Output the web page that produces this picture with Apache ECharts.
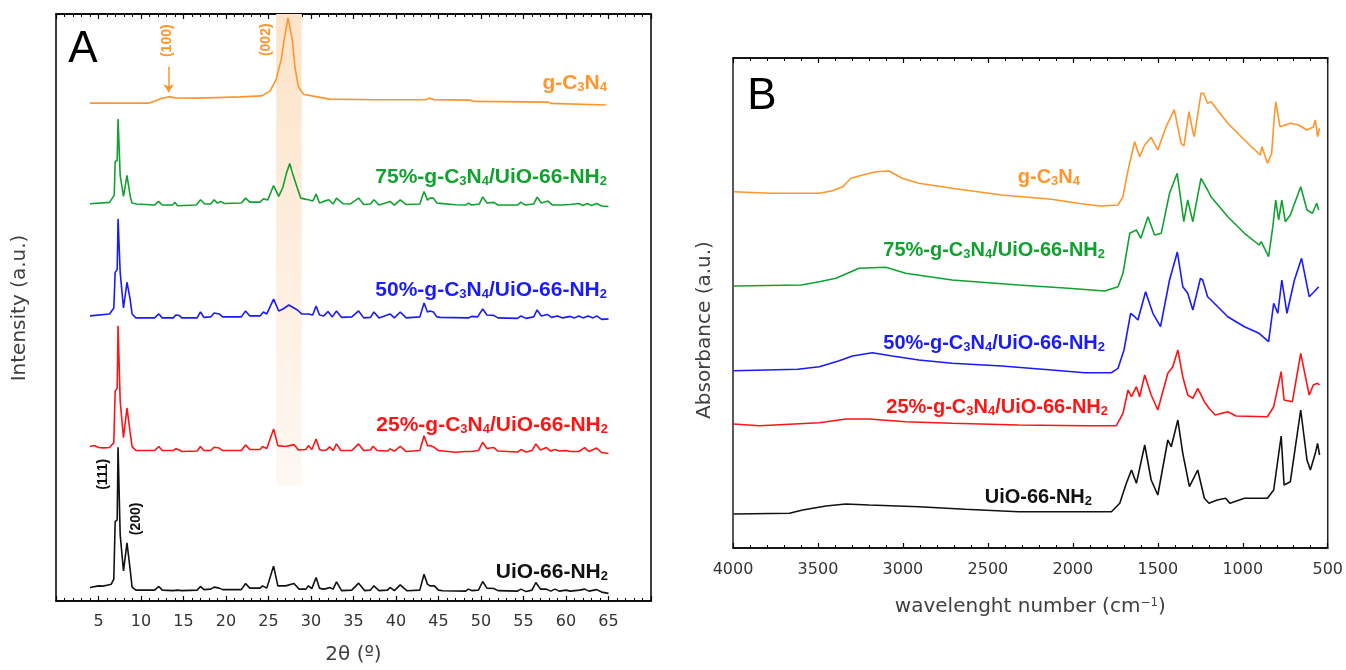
<!DOCTYPE html>
<html>
<head>
<meta charset="utf-8">
<script src="https://cdn.jsdelivr.net/npm/echarts@6.0.0/dist/echarts.min.js"></script>
<style>
  html, body { margin: 0; padding: 0; background: #fff; }
  #Chart { width: 1346px; height: 670px; }
</style>
</head>
<body>
<div id="Chart"></div>
<script>
/* eslint-disable no-undef */
// A: XRD patterns, [2θ (deg), intensity (a.u., stacked)]
const xrdGC3N4 = [[4.0,503],[11.0,503],[12.3,507.5],[13.3,509.5],[14.0,508.3],[16.8,508],[17.0,509.3],[21.7,509.3],[24.2,510.3],[25.2,515.3],[25.9,527],[26.5,547],[26.9,570],[27.3,589],[27.5,589],[27.8,567],[28.1,540],[28.5,520],[29.1,512],[30.1,510.3],[32.2,507],[37.7,506.3],[43.5,506.3],[43.9,508],[44.5,506.5],[48.7,506],[49.2,504.7],[57.9,504],[58.2,502.7],[64.7,501]]
const xrd75 = [[4.0,401.3],[6.3,402.7],[6.85,410],[6.96,444],[7.2,445],[7.3,487],[7.45,487],[7.55,430],[7.7,430],[7.94,408.7],[8.35,430],[8.55,430],[8.75,408],[8.95,402],[9.5,401],[11.6,400],[12.06,403.7],[12.5,400],[13.7,400],[14.0,402.7],[14.3,399.3],[16.5,400],[17.0,405.3],[17.5,401],[18.2,401],[18.6,405.3],[19.0,402],[19.4,403.5],[19.8,401.5],[21.8,402],[22.3,407],[22.8,403],[24.0,403],[24.4,406.3],[24.9,405],[25.6,419.7],[26.2,408.7],[26.7,418],[27.1,432],[27.5,442],[27.9,430],[28.4,417],[28.8,407],[29.3,406],[29.7,405.3],[30.2,404],[30.6,411],[31.0,402],[31.5,403.7],[32.1,405.3],[32.6,401],[33.0,407],[33.8,401.3],[34.6,401],[35.6,407],[36.2,400.5],[37.0,401],[37.4,405.3],[38.0,400],[39.3,403.7],[39.8,400],[40.5,405.3],[41.2,400.5],[42.8,401],[43.3,413.7],[43.7,405],[44.0,407],[44.4,407],[44.8,402],[45.2,401.7],[47.0,400.3],[48.2,400],[48.5,402],[48.9,400],[49.8,401],[50.2,408.3],[50.7,402],[51.5,402.7],[52.0,400],[54.3,400],[54.7,403],[55.2,400],[56.2,401],[56.6,408],[57.1,402],[57.9,404],[58.4,400],[59.5,400],[60.5,400.5],[61.5,401.5],[62.0,399.5],[62.5,401.5],[63.0,399.5],[63.6,401.5],[64.2,399],[65.0,398.5]]
const xrd50 = [[4.0,288],[6.3,290],[6.8,296],[6.96,332],[7.2,335],[7.3,386],[7.45,386],[7.55,332],[7.7,330],[7.94,296],[8.35,322],[8.5,322],[8.7,306],[8.95,290],[9.4,286],[11.6,286],[12.1,290],[12.5,286],[13.8,286],[14.1,289],[14.3,287.5],[14.5,288.5],[14.8,286],[16.6,286],[17.0,292],[17.4,286.5],[18.2,287],[18.6,291],[19.2,290],[19.6,287],[21.8,287],[22.3,293],[22.8,288],[24.0,288],[24.4,292],[24.8,290],[25.6,305],[26.2,293],[26.7,295],[27.4,299],[28.0,296],[28.4,294],[28.9,290],[29.3,290],[29.7,290],[30.2,289],[30.6,298],[31.0,289],[31.5,288],[32.0,292.5],[32.5,287],[33.0,293],[33.6,286.5],[34.8,287],[35.6,293],[36.2,286],[37.0,286.5],[37.4,292],[38.0,286],[39.3,290],[39.8,286],[40.5,292],[41.2,286],[42.8,287],[43.3,301],[43.7,292],[44.0,293],[44.4,292],[44.8,287],[45.2,286.5],[48.5,286],[48.9,287.5],[49.6,287],[50.2,295],[50.7,289],[51.5,288.5],[52.0,286],[54.3,285.5],[54.7,288],[55.3,285.5],[56.2,287],[56.6,294],[57.1,288],[57.8,289.5],[58.3,286.5],[59.0,288],[59.6,286],[60.5,287.5],[61.0,286],[61.5,288],[62.0,286],[62.6,288],[63.2,286],[63.6,288],[64.2,284.5],[65.0,285]]
const xrd25 = [[4.0,156],[4.5,157],[5.0,155],[5.6,154.7],[6.3,155],[6.8,160],[6.96,212],[7.2,215],[7.3,278],[7.45,278],[7.55,202],[7.7,200],[7.94,165],[8.35,195],[8.5,195],[8.7,172],[8.95,156],[9.4,152],[11.6,152],[12.1,156],[12.5,152],[13.8,152],[14.1,154],[14.5,152.5],[14.8,151],[16.6,151.5],[17.0,156],[17.4,152],[18.2,152],[18.6,155.3],[19.2,154.5],[19.6,152],[21.8,152],[22.3,157.7],[22.8,153],[24.0,153],[24.3,156],[24.8,154],[25.6,173.7],[26.1,157],[27.0,156],[28.0,158],[28.5,152.7],[29.4,153],[29.7,157],[30.1,153],[30.6,163.7],[31.0,153],[31.4,152],[31.8,152.5],[32.2,155.7],[32.6,152],[33.0,158.7],[33.5,152],[34.8,152],[35.6,158.7],[36.2,152],[37.0,152.5],[37.3,156.3],[37.8,152],[39.0,151.5],[39.3,153.7],[39.8,151.5],[40.5,156.3],[41.2,151],[42.8,152],[43.3,167],[43.7,157],[44.0,157],[44.5,155.3],[45.0,152],[47.0,150.3],[48.2,151],[48.4,152],[48.9,151],[49.7,152],[50.2,160.3],[50.7,154],[51.5,155],[52.0,151.5],[54.3,150.5],[54.7,153],[55.3,150.5],[56.0,152],[56.45,158.7],[57.0,152.5],[57.7,155],[58.2,151.5],[58.7,153],[59.2,151.5],[60.0,152],[60.5,151],[61.5,151],[62.2,155],[62.7,151],[63.6,154.5],[64.2,150],[65.0,149]]
const xrdUiO = [[4.0,13.7],[5.0,15.3],[5.5,15],[6.0,16],[6.5,17],[6.8,22],[6.96,80.3],[7.2,82],[7.3,155.3],[7.45,155.3],[7.55,67],[7.7,65],[7.94,30.3],[8.35,58.7],[8.5,58.7],[8.7,33.7],[8.95,14],[9.4,11],[11.6,11],[12.1,14.7],[12.5,11],[13.8,10.5],[14.0,12.5],[14.3,11],[14.5,12.5],[14.8,10.5],[16.6,11],[17.0,14.7],[17.4,11.5],[18.2,12],[18.6,14],[19.2,13],[19.6,11.5],[21.8,11.5],[22.3,17.7],[22.8,13],[24.0,13],[24.3,15.3],[24.8,13],[25.6,35.3],[26.1,15.3],[27.0,15.3],[28.0,17.7],[28.6,12],[29.4,12],[29.7,15.3],[30.1,12.5],[30.6,23.7],[31.0,13],[31.4,12],[31.8,12.5],[32.2,13.7],[32.6,12],[33.0,19.3],[33.6,10.5],[34.8,11],[35.6,18],[36.3,10.5],[37.0,11],[37.4,15.3],[38.0,10.5],[39.0,11],[39.3,13.7],[39.8,10.5],[40.5,16.3],[41.3,10.3],[42.8,11],[43.3,27],[43.7,17],[44.0,15.3],[44.5,15.3],[45.0,11],[45.5,10.3],[48.2,10],[48.5,12],[48.9,10.5],[49.7,11],[50.2,19.7],[50.7,13],[51.5,12.7],[52.0,10.5],[54.3,10],[54.7,12],[55.3,9.5],[56.0,11],[56.45,18.7],[57.0,12],[57.7,12],[58.2,10],[58.7,12],[59.2,10],[60.0,11],[60.5,10],[61.6,11],[62.2,12],[62.7,10],[63.6,11.5],[64.2,9],[65.0,7.7]]

// B: FTIR spectra, [wavenumber (cm-1), absorbance (a.u., stacked)]
const ftirGC3N4 = [[3996,356.3],[3775,354.7],[3492,354.7],[3414,357.3],[3355,361.3],[3306,369.7],[3258,372],[3160,376.3],[3082,377],[3004,369.7],[2906,364.7],[2711,359.7],[2418,353],[2125,348.7],[1929,343.7],[1832,342],[1734,343],[1705,351.3],[1675,378],[1636,406.3],[1607,391.3],[1577,403],[1539,410.7],[1500,398],[1451,421.3],[1403,438.3],[1363,404.7],[1346,402],[1317,436.3],[1294,416.3],[1285,411.3],[1246,454.7],[1231,454.7],[1207,444.7],[1187,446.3],[1088,424.7],[990,408],[897,393],[887,401.3],[855,384.7],[830,394.7],[815,430],[806,446.3],[781,421.3],[720,424.7],[671,423],[622,418],[585,421],[573,428],[560,411.3],[548,419.7]]
const ftir75 = [[3996,262],[3599,263],[3492,266.3],[3394,269.7],[3258,279.7],[3101,280.7],[2984,274.7],[2711,268],[2320,263],[2027,259.7],[1812,257],[1734,261.3],[1705,274.7],[1665,314.7],[1626,318],[1600,309.7],[1558,331.3],[1519,313],[1480,314.7],[1431,354.7],[1386,374.7],[1347,326.3],[1324,348],[1294,326.3],[1246,369.7],[1236,369.7],[1207,358],[1187,351.3],[1088,331.3],[990,314.7],[904,303],[892,306.3],[848,291.3],[823,321.3],[806,348],[789,328],[770,348],[750,326.3],[720,333],[659,361.3],[622,338],[590,334.7],[565,344.7],[553,338]]
const ftir50 = [[3996,177.3],[3619,178.7],[3492,181.3],[3375,187.3],[3297,192],[3180,195.3],[3063,192],[2906,188],[2711,184.7],[2418,182],[2125,178],[1929,175.3],[1773,175.3],[1734,179.7],[1699,198],[1660,234.7],[1636,231.3],[1617,228],[1572,256.3],[1529,234.7],[1484,221.3],[1431,268],[1385,296],[1353,261.3],[1324,254.7],[1294,238],[1249,269.7],[1236,268],[1207,251.3],[1187,248],[1088,231.3],[990,221.3],[904,214.7],[848,206.3],[818,244.7],[794,234.7],[770,268],[740,234.7],[696,268],[654,289.7],[609,251.3],[580,256.3],[553,261.3]]
const ftir25 = [[3996,124],[3844,122.3],[3492,125.3],[3336,129],[3199,129],[2984,126.3],[2711,124.7],[2320,123],[1929,122.3],[1744,122.3],[1705,134.7],[1675,158],[1655,151.3],[1626,161.3],[1607,151.3],[1577,173],[1539,153],[1500,138],[1441,174.7],[1412,181.3],[1382,198],[1353,171.3],[1324,153],[1294,149.7],[1265,159.7],[1226,146.3],[1199,139.7],[1162,133],[1088,136.3],[1039,132],[855,131.3],[818,141.3],[774,176.3],[757,148],[708,146.3],[659,194.7],[609,153],[585,163],[560,164.7],[548,163]]
const ftirUiO = [[3996,34],[3668,34.7],[3590,38],[3453,42],[3336,44],[3199,43],[2906,41.3],[2633,38.7],[2320,36.3],[2125,36.3],[1773,36.3],[1724,44.7],[1685,64.7],[1655,78],[1626,64.7],[1577,103],[1539,68],[1500,53],[1441,108],[1421,101.3],[1382,128],[1353,94.7],[1314,61.3],[1265,78],[1226,49.7],[1199,44.7],[1150,48],[1101,49.7],[1076,44.7],[990,49.7],[855,49.7],[818,58],[774,112],[757,63],[720,66.3],[659,138],[622,88],[602,78],[573,94.7],[560,104.7],[548,93]]

// tick labels
const xrdTickLabels = [5, 10, 15, 20, 25, 30, 35, 40, 45, 50, 55, 60, 65]
const ftirTickLabels = [4000, 3500, 3000, 2500, 2000, 1500, 1000, 500]

// g-C3N4 (002) region and peak annotations, [2θ, intensity]
const bandRange = [25.9, 28.9]
const bandHeight = [117, 593]
const gc3n4Peaks = [["(100)", 13.1, 566], ["(002)", 24.7, 567]]
const uioPeaks = [["(111)", 5.6, 128], ["(200)", 9.4, 83]]
const arrow100 = [[13.25, 540], [13.25, 514]]

const c = {
  orange: "#ff952b",
  green: "#10a22e",
  blue: "#1a1aff",
  red: "#ff1414",
  black: "#111111"
}
const labelFont = "\"Liberation Sans\", Arial, sans-serif"
const axisFont = "\"DejaVu Sans\", Verdana, sans-serif"

const chart = echarts.init(document.getElementById("Chart"), null, { renderer: "canvas" })

const line = (name, data, color, xi, yi, extra) => Object.assign({
  name,
  type: "line",
  data,
  xAxisIndex: xi,
  yAxisIndex: yi,
  showSymbol: false,
  symbol: "none",
  lineStyle: { color, width: 1.6 },
  itemStyle: { color },
  z: 3,
  silent: true
}, extra || {})

const peakMarks = (list, color) => ({
  symbol: "circle",
  symbolSize: 1,
  itemStyle: { color: "rgba(0,0,0,0)" },
  label: {
    show: true,
    position: "inside",
    rotate: 90,
    formatter: "{b}",
    color,
    fontSize: 14,
    fontWeight: "bold",
    fontFamily: labelFont
  },
  data: list.map(p => ({ name: p[0], coord: [p[1], p[2]] }))
})

const xAxisFrame = (gridIndex, position, min, max, interval, labels, inverse, margin) => ({
  type: "value",
  gridIndex,
  position,
  min,
  max,
  interval,
  inverse,
  axisLine: { show: true, onZero: false, lineStyle: { color: "#000", width: 1.5 } },
  axisTick: { show: true, inside: true, length: 5, lineStyle: { color: "#000", width: 1.2 } },
  minorTick: { show: true, splitNumber: 5, length: 3, lineStyle: { color: "#000", width: 1 } },
  splitLine: { show: false },
  minorSplitLine: { show: false },
  axisLabel: {
    show: labels !== null,
    margin,
    color: "#333",
    fontSize: 16,
    fontFamily: axisFont,
    formatter: v => (labels && labels.includes(v)) ? String(v) : ""
  }
})

const yAxisFrame = (gridIndex, max) => ({
  type: "value",
  gridIndex,
  min: 0,
  max,
  axisLine: { show: false },
  axisTick: { show: false },
  axisLabel: { show: false },
  splitLine: { show: false }
})

// series name text with subscripts
const sub = color => ({
  s: { fontSize: 13, fontWeight: "bold", fontFamily: labelFont, fill: color, lineHeight: 2, verticalAlign: "bottom" }
})
const nameText = (text, color, x, y, size) => ({
  type: "text",
  x,
  y,
  z: 10,
  style: {
    text,
    fill: color,
    font: "bold " + size + "px " + labelFont,
    align: "right",
    verticalAlign: "middle",
    lineHeight: 22,
    rich: sub(color)
  }
})
const mix = "%-g-C{s|3}N{s|4}/UiO-66-NH{s|2}"

let option = {
  animation: false,
  backgroundColor: "#fff",
  grid: [
    { left: 56, top: 14, width: 595, height: 593, show: true, borderColor: "#000", borderWidth: 1.5 },
    { left: 733, top: 58, width: 597, height: 490, show: true, borderColor: "#222", borderWidth: 1.5 }
  ],
  xAxis: [
    Object.assign(xAxisFrame(0, "bottom", 0, 70, 5, xrdTickLabels, false, 13), {
      name: "2θ (º)",
      nameLocation: "middle",
      nameGap: 44,
      nameTextStyle: { color: "#404040", fontSize: 20, fontFamily: axisFont }
    }),
    xAxisFrame(0, "top", 0, 70, 5, null, false, 8),
    Object.assign(xAxisFrame(1, "bottom", 500, 4000, 500, ftirTickLabels, true, 14), {
      name: "wavelenght number (cm{sup|−1})",
      nameLocation: "middle",
      nameGap: 49,
      nameTextStyle: {
        color: "#404040",
        fontSize: 20,
        fontFamily: axisFont,
        rich: { sup: { fontSize: 12, fontFamily: axisFont, color: "#404040", verticalAlign: "top", lineHeight: 12 } }
      }
    }),
    xAxisFrame(1, "top", 500, 4000, 500, null, true, 8)
  ],
  yAxis: [yAxisFrame(0, 593), yAxisFrame(1, 490)],
  series: [
    {
      name: "band",
      type: "line",
      data: [],
      xAxisIndex: 0,
      yAxisIndex: 0,
      z: 1,
      silent: true,
      markArea: {
        silent: true,
        itemStyle: {
          color: new echarts.graphic.LinearGradient(0, 0, 0, 1, [
            { offset: 0, color: "#fde3c9" },
            { offset: 1, color: "#fef8f3" }
          ])
        },
        data: [[{ coord: [bandRange[0], bandHeight[0]] }, { coord: [bandRange[1], bandHeight[1]] }]]
      }
    },
    line("g-C3N4", xrdGC3N4, c.orange, 0, 0, {
      markPoint: peakMarks(gc3n4Peaks, c.orange),
      markLine: {
        silent: true,
        symbol: ["none", "arrow"],
        symbolSize: 8,
        label: { show: false },
        lineStyle: { color: c.orange, width: 1.5, type: "solid" },
        data: [[{ coord: arrow100[0] }, { coord: arrow100[1] }]]
      }
    }),
    line("75%", xrd75, c.green, 0, 0),
    line("50%", xrd50, c.blue, 0, 0),
    line("25%", xrd25, c.red, 0, 0),
    line("UiO-66-NH2", xrdUiO, c.black, 0, 0, { markPoint: peakMarks(uioPeaks, c.black) }),
    line("g-C3N4 FTIR", ftirGC3N4, c.orange, 2, 1),
    line("75% FTIR", ftir75, c.green, 2, 1),
    line("50% FTIR", ftir50, c.blue, 2, 1),
    line("25% FTIR", ftir25, c.red, 2, 1),
    line("UiO FTIR", ftirUiO, c.black, 2, 1)
  ],
  graphic: [
    { type: "text", x: 83, y: 50, style: { text: "A", font: "44px " + labelFont, fill: "#000", align: "center", verticalAlign: "middle" } },
    { type: "text", x: 762, y: 97, style: { text: "B", font: "44px " + labelFont, fill: "#000", align: "center", verticalAlign: "middle" } },
    { type: "text", x: 20, y: 308, rotation: Math.PI / 2, style: { text: "Intensity (a.u.)", font: "20px " + axisFont, fill: "#404040", align: "center", verticalAlign: "middle" } },
    { type: "text", x: 705, y: 330, rotation: Math.PI / 2, style: { text: "Absorbance (a.u.)", font: "20px " + axisFont, fill: "#404040", align: "center", verticalAlign: "middle" } },
    nameText("g-C{s|3}N{s|4}", c.orange, 607, 83, 21),
    nameText("75" + mix, c.green, 607, 177, 21),
    nameText("50" + mix, c.blue, 607, 290, 21),
    nameText("25" + mix, c.red, 608, 425, 21),
    nameText("UiO-66-NH{s|2}", c.black, 608, 572, 21),
    nameText("g-C{s|3}N{s|4}", c.orange, 1080, 177, 20),
    nameText("75" + mix, c.green, 1105, 250, 20),
    nameText("50" + mix, c.blue, 1105, 343, 20),
    nameText("25" + mix, c.red, 1108, 407, 20),
    nameText("UiO-66-NH{s|2}", c.black, 1092, 497, 20)
  ]
}
chart.setOption(option)
</script>
</body>
</html>
